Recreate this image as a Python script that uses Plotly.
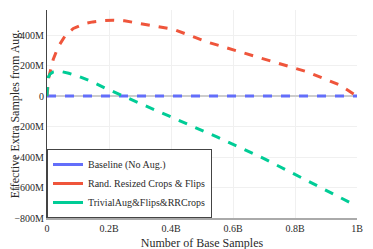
import plotly.graph_objects as go

x_red = [0, 0.002e9, 0.006e9, 0.02e9, 0.036e9, 0.06e9, 0.085e9, 0.12e9, 0.148e9, 0.18e9, 0.213e9, 0.25e9, 0.30e9, 0.35e9, 0.41e9, 0.515e9, 0.62e9, 0.73e9, 0.84e9, 0.945e9, 1.0e9]
y_red = [0, 60e6, 125e6, 240e6, 323e6, 400e6, 444e6, 475e6, 487e6, 495e6, 498e6, 494e6, 477e6, 460e6, 437e6, 356e6, 290e6, 225e6, 159e6, 72e6, 0]

x_green = [0, 0.001e9, 0.003e9, 0.01e9, 0.02e9, 0.04e9, 0.07e9, 0.106e9, 0.15e9, 0.19e9, 0.246e9, 0.30e9, 0.41e9, 0.55e9, 0.70e9, 0.85e9, 1.0e9]
y_green = [0, 90e6, 120e6, 145e6, 158e6, 164e6, 150e6, 127e6, 90e6, 50e6, 0, -48e6, -145e6, -270e6, -410e6, -565e6, -722e6]

x_blue = [0, 1.0e9]
y_blue = [0, 0]

names = ["Baseline (No Aug.)", "Rand. Resized Crops & Flips", "TrivialAug&Flips&RRCrops"]
colors = ["#636efa", "#EF553B", "#00cc96"]

SERIF = "Liberation Serif, Times New Roman, Times, serif"

fig = go.Figure()
for xs, ys, nm, c in zip([x_blue, x_red, x_green], [y_blue, y_red, y_green], names, colors):
    fig.add_trace(go.Scatter(x=xs, y=ys, mode="lines", name=nm, showlegend=False,
                             line=dict(color=c, width=3, dash="dash")))
# legend entries with solid line samples
for nm, c in zip(names, colors):
    fig.add_trace(go.Scatter(x=[None], y=[None], mode="lines", name=nm,
                             line=dict(color=c, width=3)))

fig.update_layout(
    width=373, height=249,
    template="plotly_white",
    font=dict(family=SERIF, size=11, color="#2a2a2a"),
    margin=dict(l=39, r=24, t=2, b=39),
    showlegend=True,
    legend=dict(x=0, y=0, xanchor="left", yanchor="bottom",
                bordercolor="#444", borderwidth=1, bgcolor="white",
                itemwidth=30, tracegroupgap=0,
                font=dict(size=10, family=SERIF)),
    xaxis=dict(title=dict(text="Number of Base Samples", font=dict(size=12), standoff=6),
               range=[0, 1e9], dtick=0.2e9, tick0=0, showline=True, linecolor="#aaaaaa", linewidth=2,
               gridcolor="#f0f0f0", zeroline=False, tickfont=dict(size=10), automargin=False,
               ticks="", ticklabelposition="outside"),
    yaxis=dict(title=dict(text="Effective Extra Samples from Aug.", font=dict(size=12), standoff=10),
               range=[-800e6, 565e6], showline=True, linecolor="#444", linewidth=1,
               gridcolor="#f0f0f0", zeroline=True, zerolinecolor="#cccccc", zerolinewidth=2,
               tickvals=[-800e6, -600e6, -400e6, -200e6, 0, 200e6, 400e6],
               tickfont=dict(size=10), automargin=False, ticks="", ticklabelposition="outside"),
)

fig.write_html("out.html")
